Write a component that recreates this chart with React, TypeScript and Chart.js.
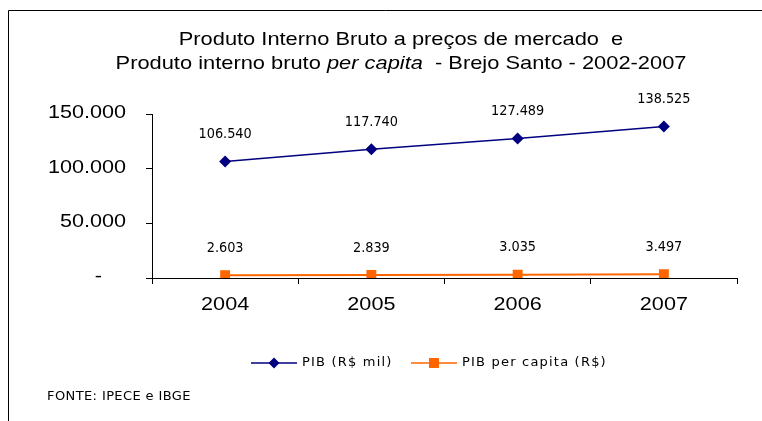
import React, { useEffect, useRef } from "react";
import { Chart, registerables } from "chart.js";

Chart.register(...registerables);

const categories = ["2004", "2005", "2006", "2007"];
const pibValues = [106540, 117740, 127489, 138525];
const perCapitaValues = [2603, 2839, 3035, 3497];
const yTicks = [0, 50000, 100000, 150000];
const seriesNames = ["PIB (R$ mil)", "PIB per capita (R$)"];
const titleLine1 = "Produto Interno Bruto a preços de mercado  e";
const titleLine2a = "Produto interno bruto ";
const titleLine2b = "per capita";
const titleLine2c = "  - Brejo Santo - 2002-2007";
const sourceText = "FONTE: IPECE e IBGE";

const NAVY = "#000080";
const ORANGE = "#FF6600";
const ARIAL = "'Liberation Sans', Arial, sans-serif";
const VERD = "'DejaVu Sans', Verdana, sans-serif";

function fmt(v: number): string {
  if (v === 0) return "-";
  const s = Math.round(v).toString();
  return s.replace(/\B(?=(\d{3})+(?!\d))/g, ".");
}

function sText(
  ctx: CanvasRenderingContext2D,
  text: string,
  x: number,
  y: number,
  align: CanvasTextAlign,
  sx: number
) {
  ctx.save();
  ctx.translate(x, y);
  ctx.scale(sx, 1);
  ctx.textAlign = align;
  ctx.fillText(text, 0, 0);
  ctx.restore();
}

function drawDiamond(ctx: CanvasRenderingContext2D, x: number, y: number, r: number, color: string) {
  ctx.beginPath();
  ctx.moveTo(x, y - r);
  ctx.lineTo(x + r, y);
  ctx.lineTo(x, y + r);
  ctx.lineTo(x - r, y);
  ctx.closePath();
  ctx.fillStyle = color;
  ctx.fill();
}

const decorPlugin = {
  id: "decor",
  afterDatasetsDraw(chart: any) {
    const ctx: CanvasRenderingContext2D = chart.ctx;
    ctx.save();
    // frame
    ctx.strokeStyle = "#000";
    ctx.lineWidth = 1;
    ctx.beginPath();
    ctx.moveTo(762, 10.5);
    ctx.lineTo(8.5, 10.5);
    ctx.lineTo(8.5, 421);
    ctx.stroke();

    // title (horizontally stretched Arial)
    ctx.fillStyle = "#000";
    ctx.textBaseline = "middle";
    const cx = 401;
    const tsx = 1.15;
    ctx.font = `19px ${ARIAL}`;
    sText(ctx, titleLine1, cx, 40, "center", tsx);
    const wa = ctx.measureText(titleLine2a).width;
    ctx.font = `italic 19px ${ARIAL}`;
    const wb = ctx.measureText(titleLine2b).width;
    ctx.font = `19px ${ARIAL}`;
    const wc = ctx.measureText(titleLine2c).width;
    const x0 = cx - ((wa + wb + wc) * tsx) / 2;
    sText(ctx, titleLine2a, x0, 64, "left", tsx);
    ctx.font = `italic 19px ${ARIAL}`;
    sText(ctx, titleLine2b, x0 + wa * tsx, 64, "left", tsx);
    ctx.font = `19px ${ARIAL}`;
    sText(ctx, titleLine2c, x0 + (wa + wb) * tsx, 64, "left", tsx);

    // axis tick labels
    const xs = chart.scales.x;
    const ys = chart.scales.y;
    ctx.font = `18px ${ARIAL}`;
    categories.forEach((c, i) => {
      sText(ctx, c, xs.getPixelForValue(i), 305, "center", 1.2);
    });
    yTicks.forEach((v) => {
      const lbl = fmt(v);
      const rx = v === 0 ? 102 : 126;
      sText(ctx, lbl, rx, ys.getPixelForValue(v) - 1, "right", 1.2);
    });

    // data labels
    ctx.font = `14px ${VERD}`;
    chart.data.datasets.forEach((ds: any, i: number) => {
      const meta = chart.getDatasetMeta(i);
      meta.data.forEach((pt: any, j: number) => {
        sText(ctx, fmt(ds.data[j]), pt.x, pt.y - 27, "center", 0.92);
      });
    });

    // legend
    const ly = 363;
    ctx.lineWidth = 1.5;
    ctx.strokeStyle = NAVY;
    ctx.beginPath();
    ctx.moveTo(251, ly);
    ctx.lineTo(297, ly);
    ctx.stroke();
    drawDiamond(ctx, 274, ly, 5.5, NAVY);
    ctx.strokeStyle = ORANGE;
    ctx.beginPath();
    ctx.moveTo(411, ly);
    ctx.lineTo(457, ly);
    ctx.stroke();
    ctx.fillStyle = ORANGE;
    ctx.fillRect(429, ly - 5, 10, 10);
    ctx.fillStyle = "#000";
    ctx.textAlign = "left";
    ctx.font = `13px ${VERD}`;
    (ctx as any).letterSpacing = "1.2px";
    ctx.fillText(seriesNames[0], 302, ly);
    ctx.fillText(seriesNames[1], 462, ly);

    // source
    (ctx as any).letterSpacing = "0.4px";
    ctx.fillText(sourceText, 47, 397);
    (ctx as any).letterSpacing = "0px";
    ctx.restore();
  },
};

export default function App() {
  const ref = useRef<HTMLCanvasElement>(null);
  useEffect(() => {
    document.body.style.margin = "0";
    const canvas = ref.current!;
    const chart = new Chart(canvas, {
      type: "line",
      data: {
        labels: categories,
        datasets: [
          {
            label: seriesNames[0],
            data: pibValues,
            borderColor: NAVY,
            backgroundColor: NAVY,
            borderWidth: 1.5,
            pointStyle: "rectRot",
            pointRadius: 6,
            pointBorderWidth: 0,
            pointBackgroundColor: NAVY,
            pointBorderColor: NAVY,
          },
          {
            label: seriesNames[1],
            data: perCapitaValues,
            borderColor: ORANGE,
            backgroundColor: ORANGE,
            borderWidth: 2,
            pointStyle: "rect",
            pointRadius: 7,
            pointBorderWidth: 0,
            pointBackgroundColor: ORANGE,
            pointBorderColor: ORANGE,
          },
        ],
      },
      options: {
        animation: false,
        responsive: false,
        maintainAspectRatio: false,
        layout: { padding: { left: 0, top: 114, right: 25, bottom: 0 } },
        plugins: {
          legend: { display: false },
          title: { display: false },
          tooltip: { enabled: false },
        },
        scales: {
          x: {
            type: "category",
            offset: true,
            afterFit: (s: any) => {
              s.height = 143;
            },
            grid: {
              offset: true,
              drawOnChartArea: false,
              drawTicks: true,
              tickLength: 6,
              color: "#000",
            },
            border: { color: "#000", width: 1 },
            ticks: { display: false },
          },
          y: {
            min: 0,
            max: 150000,
            afterFit: (s: any) => {
              s.width = 152;
            },
            afterBuildTicks: (s: any) => {
              s.ticks = yTicks.map((v) => ({ value: v }));
            },
            grid: {
              drawOnChartArea: false,
              drawTicks: true,
              tickLength: 6,
              color: "#000",
            },
            border: { color: "#000", width: 1 },
            ticks: { display: false },
          },
        },
      },
      plugins: [decorPlugin],
    });
    return () => chart.destroy();
  }, []);
  return <canvas ref={ref} width={762} height={421} style={{ display: "block" }} />;
}
